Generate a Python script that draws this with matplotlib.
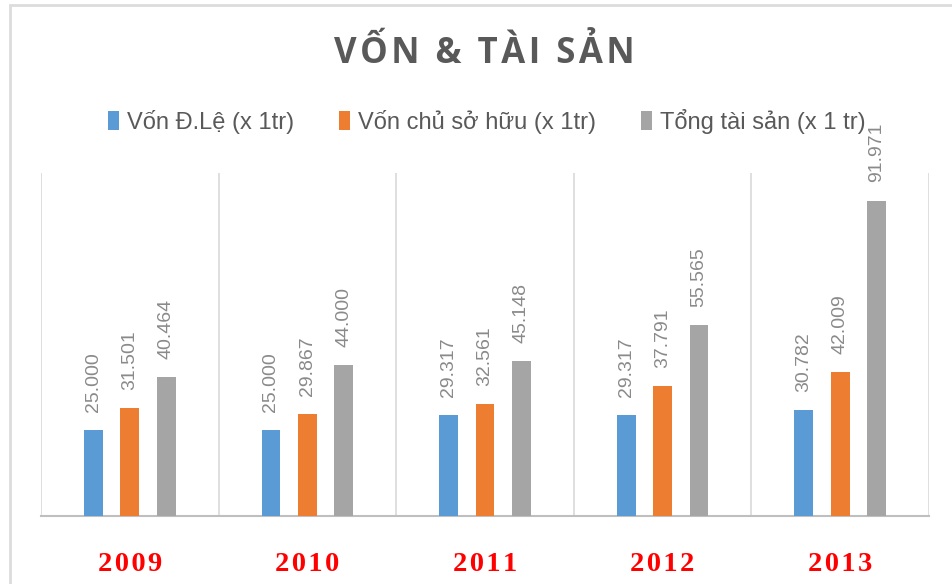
import numpy as np
import matplotlib.pyplot as plt
from matplotlib.patches import Rectangle

# data
years = ['2009', '2010', '2011', '2012', '2013']
von_dieu_le = [25.000, 25.000, 29.317, 29.317, 30.782]
von_chu_so_huu = [31.501, 29.867, 32.561, 37.791, 42.009]
tong_tai_san = [40.464, 44.000, 45.148, 55.565, 91.971]

series_names = ['Vốn Đ.Lệ (x 1tr)', 'Vốn chủ sở hữu (x 1tr)', 'Tổng tài sản (x 1 tr)']
colors = ['#5b9bd5', '#ed7d31', '#a5a5a5']

plt.rcParams['font.family'] = ['Liberation Sans', 'DejaVu Sans']

fig = plt.figure(figsize=(9.52, 5.84), dpi=100)
fig.patch.set_facecolor('white')
# thin frame at top/left like the screenshot
fig.patches.append(Rectangle((10 / 952, -0.1), 1.2, 1.1 - 5 / 584, transform=fig.transFigure,
                             fill=False, edgecolor='#dcdcdc', lw=2))

ax = fig.add_axes([41 / 952, 1 - 516 / 584, 888 / 952, 343 / 584])

x = np.arange(len(years))
offsets = [-0.205, 0, 0.205]
width = 0.105
for vals, off, col, name in zip([von_dieu_le, von_chu_so_huu, tong_tai_san], offsets, colors, series_names):
    bars = ax.bar(x + off, vals, width, color=col, label=name, zorder=3)
    for b, v in zip(bars, vals):
        ax.annotate(f'{v:.3f}', (b.get_x() + b.get_width() / 2, b.get_height()),
                    xytext=(0, 13), textcoords='offset points', rotation=90,
                    ha='center', va='bottom', fontsize=14, color='#8a8a8a')

ax.set_xlim(-0.5, len(years) - 0.5)
ax.set_ylim(0, 100)
ax.set_yticks([])
ax.set_xticks(x)
hair = '\u200a'
ax.set_xticklabels([hair.join(y) for y in years], family=['Liberation Serif', 'DejaVu Serif'],
                   fontsize=20.5, fontweight='bold', color='#ff0000')
ax.tick_params(axis='x', length=0, pad=26)
ax.set_xticks(np.arange(-0.5, len(years)), minor=True)
ax.tick_params(axis='x', which='minor', length=0)
ax.grid(which='minor', axis='x', color='#d9d9d9', lw=1.2, zorder=0)
for s in ['left', 'right', 'top']:
    ax.spines[s].set_visible(False)
ax.spines['bottom'].set_color('#bfbfbf')
ax.spines['bottom'].set_linewidth(1.5)

fig.text(484 / 952, 1 - 54 / 584, '\u200a'.join('VỐN & TÀI SẢN'), ha='center', va='center',
         fontsize=25, fontweight='bold', color='#595959', family=['Open Sans', 'DejaVu Sans'])

fig.legend(loc='center', bbox_to_anchor=(487 / 952, 1 - 121 / 584), ncol=3, frameon=False,
           fontsize=17, labelcolor='#595959', handlelength=0.45, handleheight=0.9,
           handletextpad=0.35, columnspacing=1.9)

fig.savefig('out.png', dpi=100)
